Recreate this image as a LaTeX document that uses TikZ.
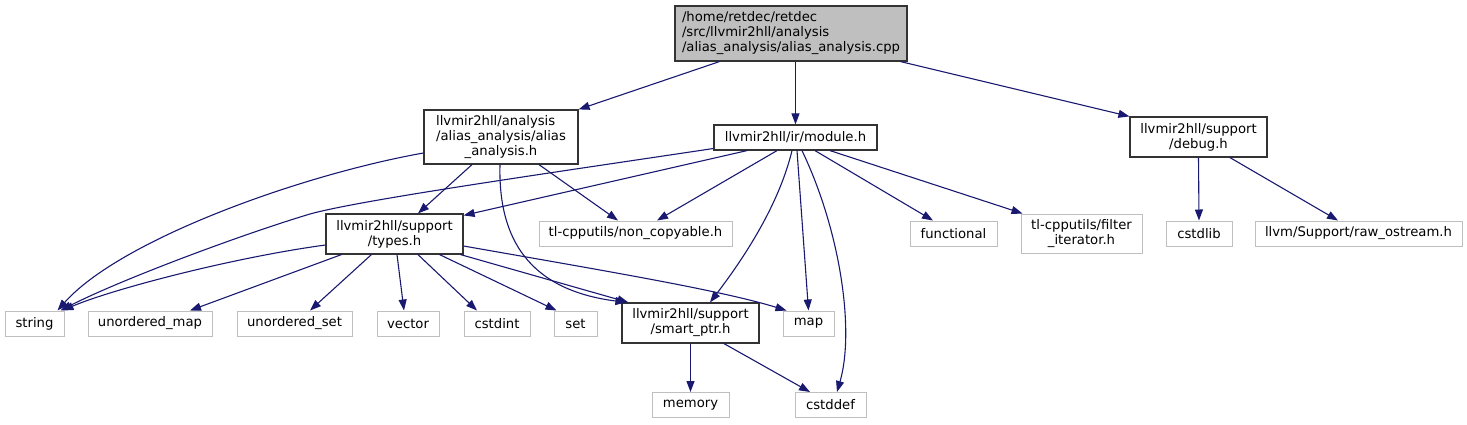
\documentclass[tikz,border=0pt]{standalone}
\usepackage{fontspec}
\setmainfont{DejaVu Sans}
\usepackage{calc}
\usetikzlibrary{arrows.meta,calc}
\definecolor{edgeblue}{HTML}{191970}
\definecolor{grayline}{HTML}{BFBFBF}
\definecolor{rootfill}{HTML}{BFBFBF}
\begin{document}
\begin{tikzpicture}[x=1pt,y=-1pt,
  fbox/.style={rectangle, inner sep=0pt, align=center, text=black,
    font=\fontsize{13.2}{15}\selectfont},
  blk/.style={fbox, draw=black!80, line width=1.2pt},
  gry/.style={fbox, draw=grayline, line width=1pt},
  rootbox/.style={blk, fill=rootfill},
  edge/.style={draw=edgeblue, line width=1.1pt, -{Triangle[length=11pt,width=8pt]}, fill=none},
]
\useasboundingbox (0,0) rectangle (1467,424);

% nodes
\node[rootbox, minimum width=232, minimum height=55, align=left] (root) at (791,33.5)
  {/home/retdec/retdec\\/src/llvmir2hll/analysis\\/alias\_analysis/alias\_analysis.cpp};
\node[blk, minimum width=154, minimum height=54] (aah) at (501,137)
  {\makebox[\widthof{/alias\_analysis/alias}][l]{llvmir2hll/analysis}\\/alias\_analysis/alias\\\_analysis.h};
\node[blk, minimum width=163, minimum height=25] (mod) at (795.5,137.5) {llvmir2hll/ir/module.h};
\node[blk, minimum width=137, minimum height=40] (dbg) at (1198.5,137) {llvmir2hll/support\\/debug.h};
\node[blk, minimum width=137, minimum height=40] (types) at (394.5,234) {llvmir2hll/support\\/types.h};
\node[gry, minimum width=193, minimum height=25] (noncopy) at (635.5,233.5) {tl-cpputils/non\_copyable.h};
\node[gry, minimum width=87, minimum height=25] (functional) at (953.5,233.5) {functional};
\node[gry, minimum width=121, minimum height=39] (filter) at (1081.5,233.5) {tl-cpputils/filter\\\_iterator.h};
\node[gry, minimum width=66, minimum height=25] (cstdlib) at (1199,233.5) {cstdlib};
\node[gry, minimum width=207, minimum height=25] (raw) at (1358.5,233.5) {llvm/Support/raw\_ostream.h};
\node[gry, minimum width=59, minimum height=25] (string) at (34.5,323.5) {string};
\node[gry, minimum width=124, minimum height=25] (umap) at (150,323.5) {unordered\_map};
\node[gry, minimum width=115, minimum height=25] (uset) at (294.5,323.5) {unordered\_set};
\node[gry, minimum width=62, minimum height=25] (vector) at (408,323.5) {vector};
\node[gry, minimum width=66, minimum height=25] (cstdint) at (497,323.5) {cstdint};
\node[gry, minimum width=43, minimum height=25] (set) at (575.5,323.5) {set};
\node[blk, minimum width=137, minimum height=40] (smart) at (690.5,323) {llvmir2hll/support\\/smart\_ptr.h};
\node[gry, minimum width=51, minimum height=25] (map) at (808.5,323.5) {map};
\node[gry, minimum width=77, minimum height=25] (memory) at (690.5,405) {memory};
\node[gry, minimum width=71, minimum height=25] (cstddef) at (830.5,405) {cstddef};

% edges from root
\draw[edge] ([xshift=45]root.south west) -- (aah.north east);
\draw[edge] ([xshift=4.5]root.south) -- (mod.north);
\draw[edge] ([xshift=-7]root.south east) -- (dbg.north west);

% edges from alias_analysis.h
\draw[edge] ([yshift=-16]aah.west) .. controls (300,175) and (120,240) .. ([xshift=-7]string.north east);
\draw[edge] ([xshift=-29]aah.south) -- ([xshift=23.5]types.north);
\draw[edge] ([xshift=38]aah.south) -- ([xshift=-17.5]noncopy.north);
\draw[edge] ([xshift=-1]aah.south) .. controls (498,240) and (530,290) .. ([xshift=5]smart.north west);

% edges from module.h
\draw[edge] ([yshift=-11]mod.west) .. controls (550,173) and (360,200) .. (310,214)
  .. controls (240,235) and (120,280) .. ([xshift=-4]string.north east);
\draw[edge] ([xshift=-48.5]mod.south) -- ([yshift=-2]types.north east);
\draw[edge] ([xshift=-18.5]mod.south) -- ([xshift=21.5]noncopy.north);
\draw[edge] ([xshift=-3.5]mod.south) .. controls (780,200) and (750,250) .. ([xshift=19.5]smart.north);
\draw[edge] ([xshift=1.5]mod.south) -- (map.north);
\draw[edge] ([xshift=6.5]mod.south) .. controls (840,230) and (855,330) .. ([xshift=6.5]cstddef.north);
\draw[edge] ([xshift=19.5]mod.south) -- ([xshift=-20.5]functional.north);
\draw[edge] ([xshift=34.5]mod.south) -- ([xshift=2]filter.north west);

% edges from debug.h
\draw[edge] (dbg.south) -- (cstdlib.north);
\draw[edge] ([xshift=31.5]dbg.south) -- ([xshift=-20.5]raw.north);

% edges from types.h
\draw[edge] ([yshift=-11]types.west) .. controls (230,258) and (110,290) .. ([xshift=-2]string.north east);
\draw[edge] ([xshift=16]types.south west) -- ([xshift=40]umap.north);
\draw[edge] ([xshift=46]types.south west) -- ([xshift=15.5]uset.north);
\draw[edge] ([xshift=2.5]types.south) -- ([xshift=-4]vector.north);
\draw[edge] ([xshift=23.5]types.south) -- ([xshift=-20]cstdint.north);
\draw[edge] ([xshift=-24]types.south east) -- ([xshift=3]set.north west);
\draw[edge] ([xshift=-3]types.south east) -- ([xshift=7]smart.north west);
\draw[edge] ([yshift=-12]types.east) .. controls (600,270) and (720,290) .. ([xshift=4]map.north west);

% edges from smart_ptr.h
\draw[edge] (smart.south) -- (memory.north);
\draw[edge] ([xshift=33.5]smart.south) -- ([xshift=-20.5]cstddef.north);
\end{tikzpicture}
\end{document}
